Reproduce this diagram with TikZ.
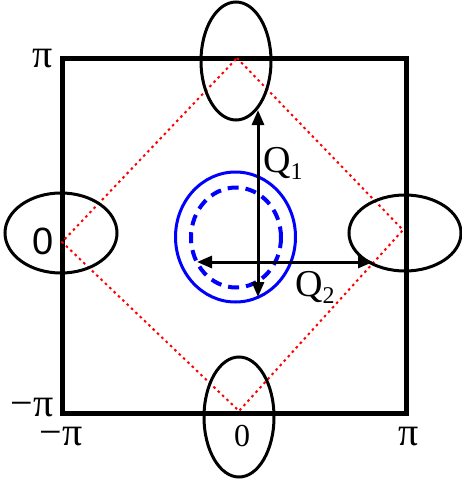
\documentclass[tikz,border=0pt]{standalone}
\usepackage{fontspec}
\setmainfont{Liberation Serif}
\newfontfamily\zonesans{Liberation Sans}
\usetikzlibrary{arrows.meta}

\tikzset{
  zonelabel/.style={inner sep=0pt,font=\fontsize{40}{40}\selectfont},
  pocket/.style={line width=3pt},
  qvec/.style={{Triangle[length=15pt,width=12pt]}-{Triangle[length=15pt,width=12pt]},line width=3pt},
}
\newcommand{\qsub}[1]{\raisebox{-7pt}{\fontsize{24}{24}\selectfont #1}}

\begin{document}
\begin{tikzpicture}[x=1pt,y=-1pt]
\useasboundingbox (0,0) rectangle (461,485);
% zone boundary and magnetic zone
\draw[line width=5pt] (62,58) rectangle (406,413);
\draw[red,line width=2pt,dash pattern=on 2.5pt off 3.5pt] (237,58) -- (403,230) -- (239,411) -- (62,242) -- cycle;
% pockets at the zone edges
\foreach \cx/\cy/\rx/\ry in {236/61/35/59, 239/417/35/60, 61/233/56/40, 405/233/56/38}{
  \draw[pocket] (\cx,\cy) ellipse [x radius=\rx pt,y radius=\ry pt];
}
% central surfaces
\draw[blue,line width=3pt] (235.5,237) ellipse [x radius=60pt,y radius=65pt];
\draw[blue,line width=4pt,dash pattern=on 11pt off 7pt] (236,237.5) ellipse [x radius=45pt,y radius=50pt];
% nesting vectors
\coordinate (qonetop) at (258,110);
\coordinate (qonebot) at (258,297);
\coordinate (qtwoleft) at (197,262);
\coordinate (qtworight) at (373,262);
\draw[qvec] (qonetop) -- (qonebot);
\draw[qvec] (qtwoleft) -- (qtworight);
\node[zonelabel,font=\fontsize{38}{38}\selectfont,anchor=base west] (qone) at (263,172) {Q\qsub{1}};
\node[zonelabel,font=\fontsize{38}{38}\selectfont,anchor=base west] (qtwo) at (295,296) {Q\qsub{2}};
% axis labels
\node[zonelabel] (ytop) at (42.5,58.5) {π};
\node[zonelabel,font=\zonesans\fontsize{38}{38}\selectfont] (yzero) at (43.5,241.5) {0};
\node[zonelabel] (ybot) at (32,408) {−π};
\node[zonelabel] (xleft) at (61,437) {−π};
\node[zonelabel,font=\fontsize{32}{32}\selectfont] (xzero) at (242,436) {0};
\node[zonelabel] (xright) at (409,437) {π};
\end{tikzpicture}
\end{document}
